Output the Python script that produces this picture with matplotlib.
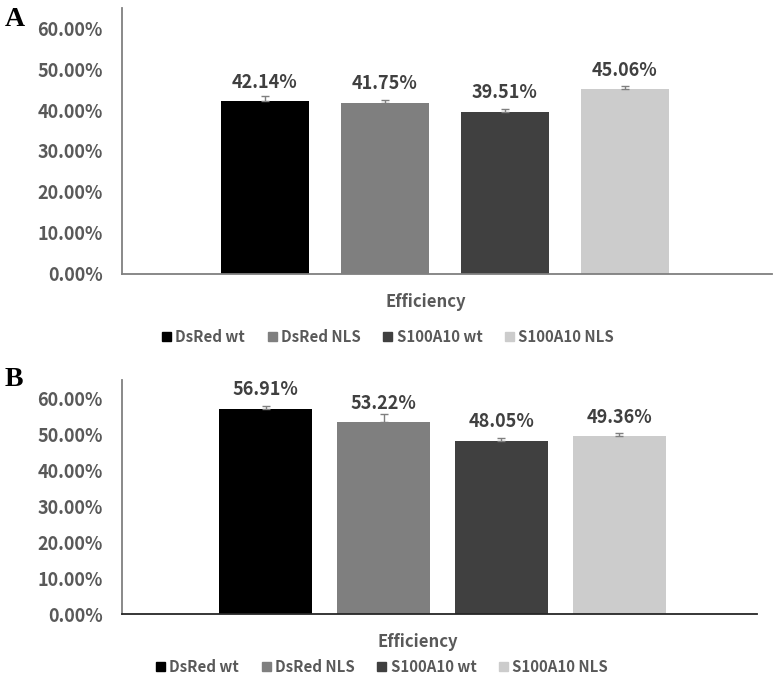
import numpy as np
import matplotlib
matplotlib.use("Agg")
import matplotlib.pyplot as plt
from matplotlib.patches import Patch

plt.rcParams["font.family"] = ["Noto Sans CJK KR", "DejaVu Sans"]
plt.rcParams["font.weight"] = "bold"

groups = ["DsRed wt", "DsRed NLS", "S100A10 wt", "S100A10 NLS"]
colors = ["#000000", "#7f7f7f", "#404040", "#cccccc"]

eff_a = [42.14, 41.75, 39.51, 45.06]
err_a = [1.2, 0.75, 0.8, 0.75]
eff_b = [56.91, 53.22, 48.05, 49.36]
err_b = [0.9, 2.2, 0.8, 0.8]

TXT = "#595959"
LBL = "#404040"

fig = plt.figure(figsize=(7.74, 6.85), dpi=100)


def panel(rect, vals, errs, xlim, width, bottom_col, label, label_y,
          xlab_xy, leg_xy):
    ax = fig.add_axes(rect)
    x = np.arange(len(vals))
    for i, (v, e) in enumerate(zip(vals, errs)):
        ax.bar(x[i], v, width=width, color=colors[i], label=groups[i], zorder=2)
        ax.errorbar(x[i], v, yerr=[[0], [e]], fmt="none", ecolor="#7f7f7f",
                    elinewidth=1, capsize=3, capthick=1, zorder=3)
        ax.annotate(f"{v:.2f}%", (x[i], v), xytext=(0, 7),
                    textcoords="offset points", ha="center", va="bottom",
                    fontsize=13, fontweight="bold", color=LBL)
    ax.set_xlim(*xlim)
    ax.set_ylim(0, 65)
    ax.set_yticks(np.arange(0, 61, 10))
    ax.set_yticklabels([f"{t:.2f}%" for t in np.arange(0, 61, 10)])
    ax.tick_params(axis="y", length=0, pad=14, labelsize=13, labelcolor=TXT)
    ax.set_xticks([])
    for s in ["top", "right"]:
        ax.spines[s].set_visible(False)
    ax.spines["left"].set_color("#808080")
    ax.spines["left"].set_linewidth(1.3)
    ax.spines["bottom"].set_color(bottom_col)
    ax.spines["bottom"].set_linewidth(1.3)
    fig.text(0.006, label_y, label, fontsize=20, fontweight="bold",
             family="Liberation Serif", color="#000000", va="center")
    fig.text(xlab_xy[0], xlab_xy[1], "Efficiency", fontsize=12,
             fontweight="bold", color=TXT, ha="center", va="center")
    handles = [Patch(color=c) for c in colors]
    fig.legend(handles, groups, loc="center", bbox_to_anchor=leg_xy,
               ncol=4, frameon=False, fontsize=10.8, labelcolor=TXT,
               handlelength=0.6, handleheight=0.6, handletextpad=0.3,
               columnspacing=1.5, borderpad=0)
    return ax


panel([122 / 774, 1 - 273.5 / 685, 650 / 774, 265.5 / 685],
      eff_a, err_a, (-1.19, 4.225), 0.73, "#7f7f7f",
      "A", 1 - 19 / 685, (426 / 774, 1 - 302 / 685), (388 / 774, 1 - 337 / 685))
panel([122 / 774, 1 - 614 / 685, 635 / 774, 234 / 685],
      eff_b, err_b, (-1.22, 4.17), 0.79, "#262626",
      "B", 1 - 380 / 685, (418 / 774, 1 - 642 / 685), (382 / 774, 1 - 667 / 685))

fig.savefig("out.png", dpi=100)
